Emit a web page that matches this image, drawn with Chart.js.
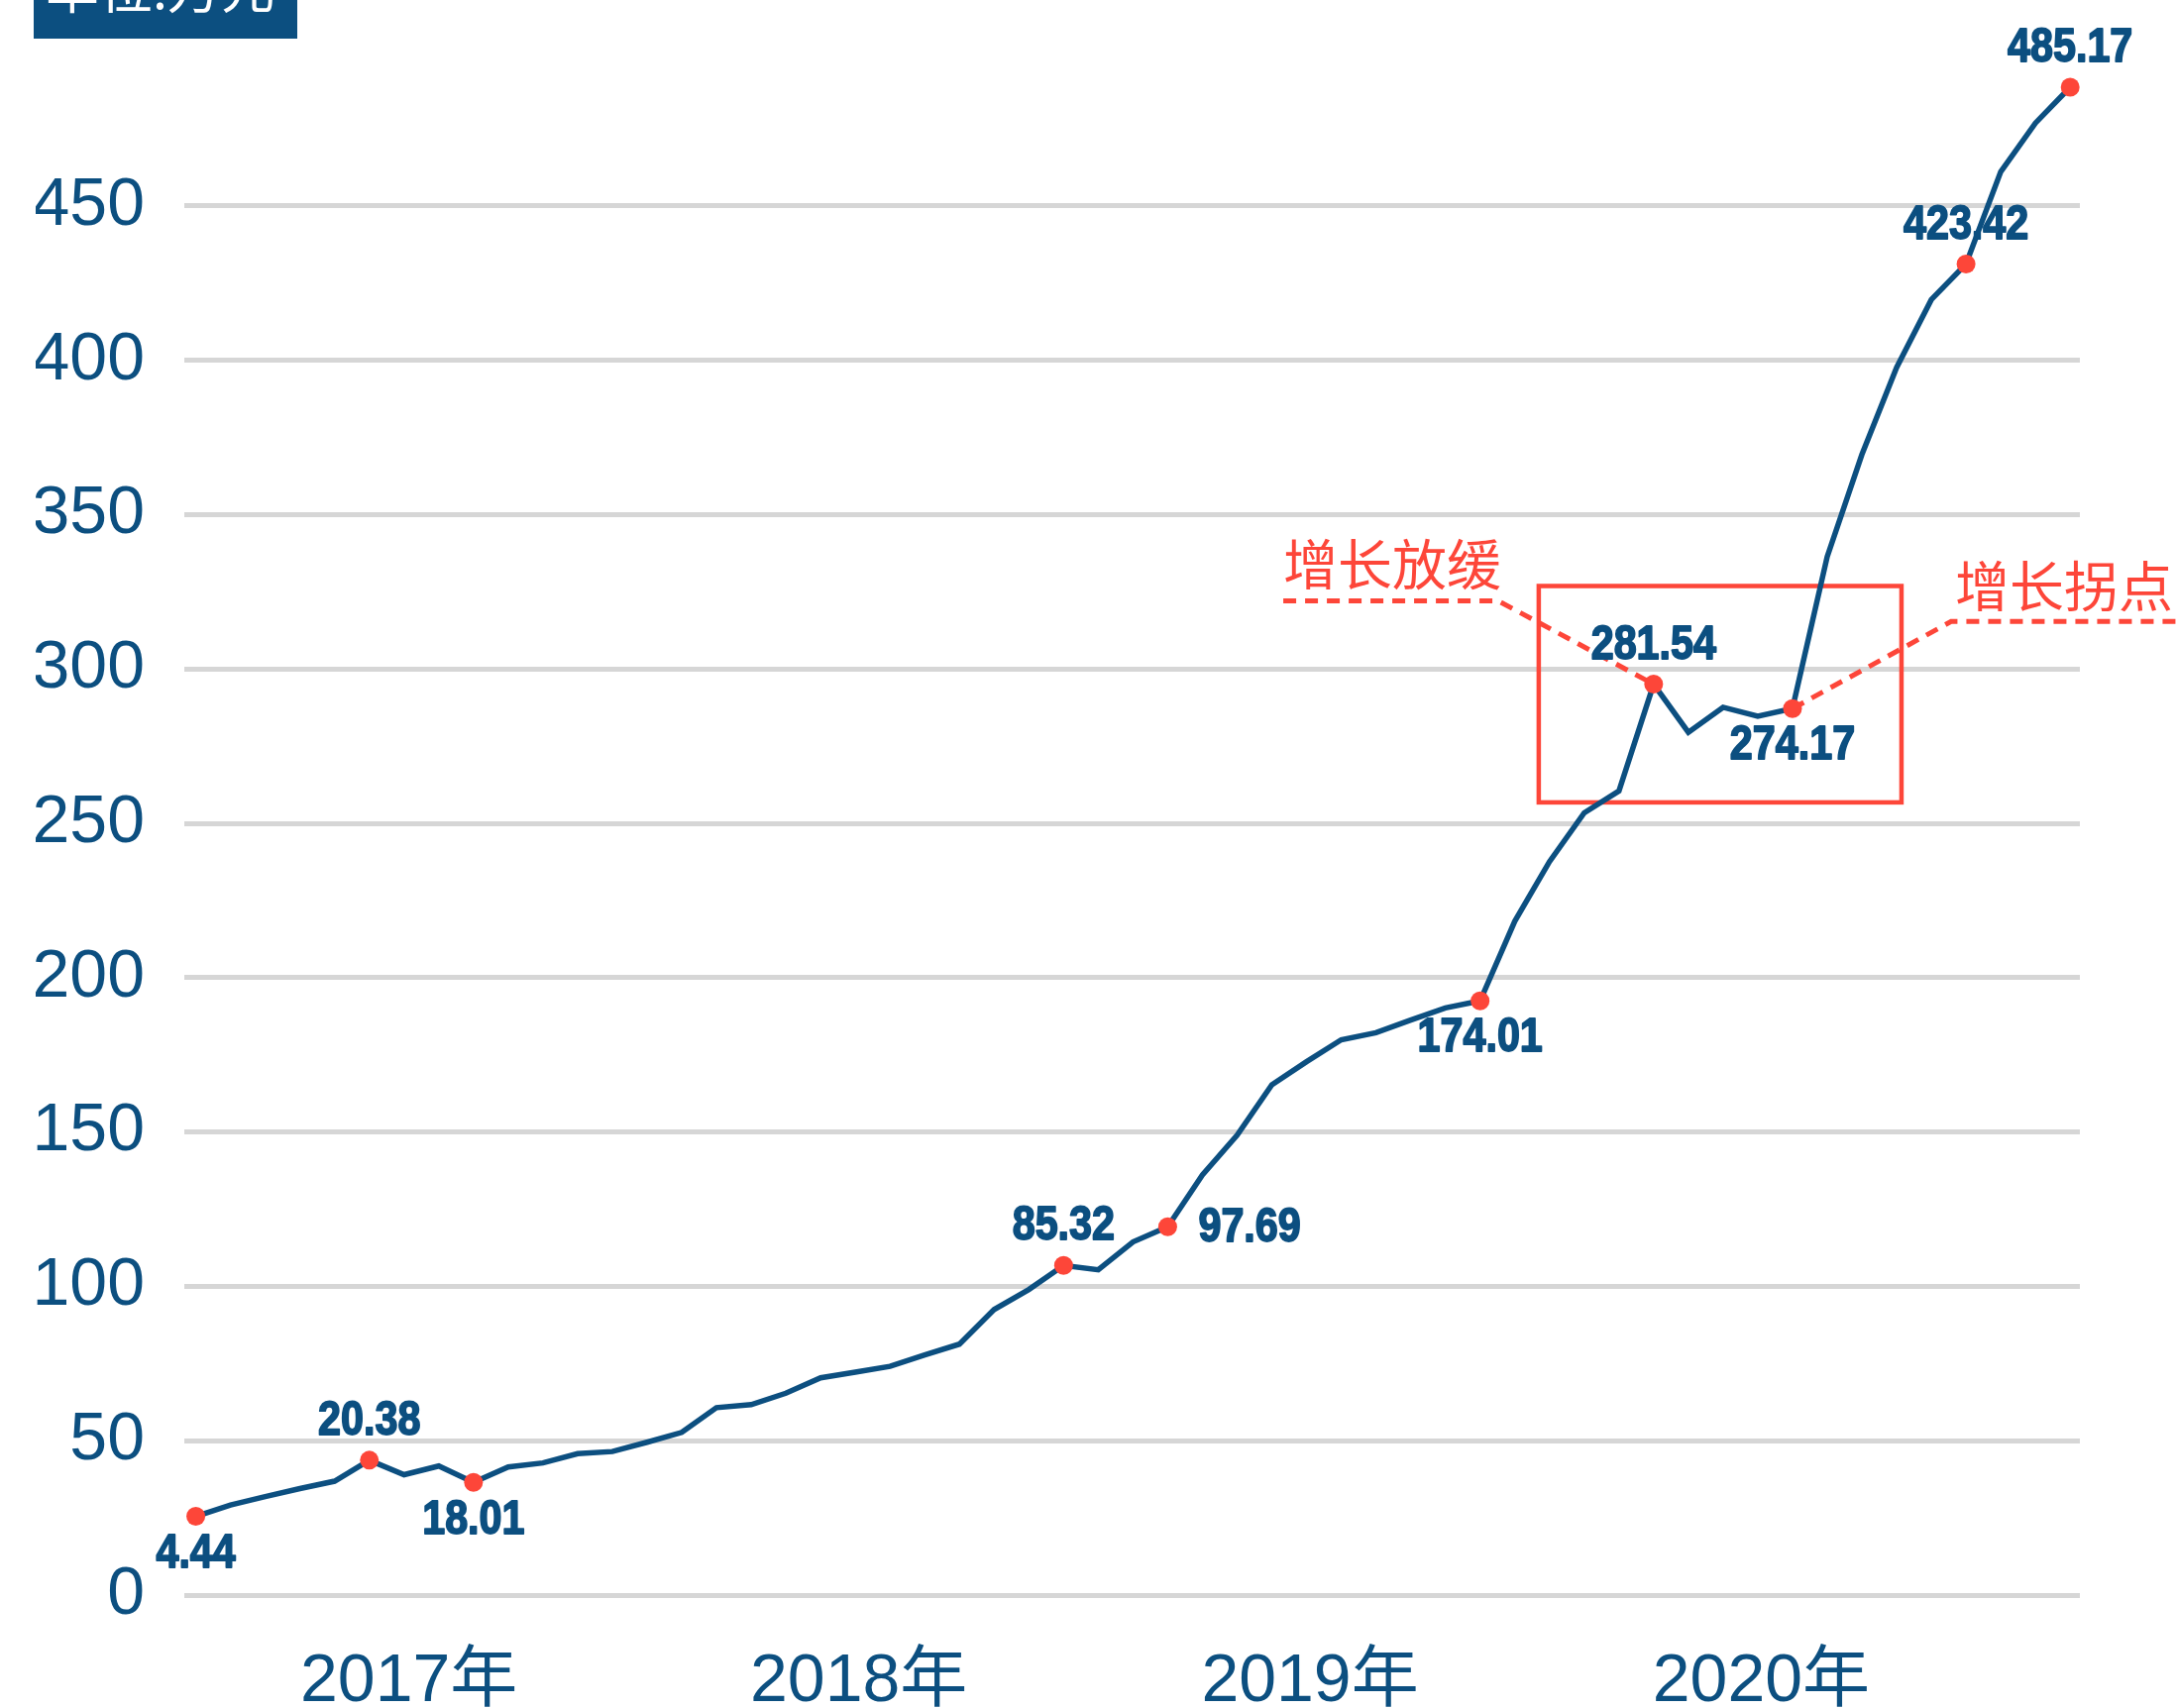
<!DOCTYPE html>
<html>
<head>
<meta charset="utf-8">
<script src="https://cdn.jsdelivr.net/npm/chart.js@4.4.1/dist/chart.umd.min.js"></script>
<style>
html, body { margin: 0; padding: 0; background: #fff; }
#wrap { width: 2197px; height: 1724px; }
</style>
</head>
<body>
<div id="wrap"><canvas id="chart" width="2197" height="1724"></canvas></div>
<script>
// monthly values as plotted (万元)
const sales = [25.5, 29.2, 31.9, 34.5, 36.9, 43.7, 39.0, 41.8, 36.5, 41.5,
    42.8, 45.8, 46.5, 49.5, 52.7, 60.7, 61.7, 65.4, 70.4, 72.2,
    74.1, 77.8, 81.3, 92.5, 99.0, 106.8, 105.4, 114.4, 119.3, 136.1,
    149.0, 165.3, 172.8, 179.9, 182.2, 186.3, 190.2, 192.5, 218.3, 237.6,
    253.4, 260.5, 295.1, 279.5, 287.6, 284.7, 287.2, 336.4, 369.5, 397.7,
    419.7, 431.2, 461.1, 476.9, 488.5];

// highlighted points and the text written next to them
const markIdx = [0, 5, 8, 25, 28, 37, 42, 46, 51, 54];
const markText = ['4.44', '20.38', '18.01', '85.32', '97.69', '174.01', '281.54', '274.17', '423.42', '485.17'];
const markSide = ['below', 'above', 'below', 'above', 'right', 'below', 'above', 'below', 'above', 'above'];

// axis labels
const years = ['2017年', '2018年', '2019年', '2020年'];
const yearPos = [6.14, 19.1, 32.1, 45.1];
const yTicks = [0, 50, 100, 150, 200, 250, 300, 350, 400, 450];

// annotations
const noteText = ['增长放缓', '增长拐点'];
const slowNote = [31.33, 37.52, 322.1];   // start x, corner x, level
const turnNote = [50.57, 57.1, 315.4];    // corner x, end x, level
const boxX = [38.69, 49.14];
const boxY = [256.8, 326.9];

const BLUE = '#0c4f80';
const RED = '#fd4639';

const notesPlugin = {
    id: 'notes',
    beforeDatasetsDraw(chart) {
        const { ctx } = chart;
        const x = chart.scales.x, y = chart.scales.y;
        const pts = chart.getDatasetMeta(0).data;
        ctx.save();
        ctx.strokeStyle = RED;
        ctx.lineWidth = 4.5;

        // red frame round the slowdown
        const bx0 = x.getPixelForValue(boxX[0]), bx1 = x.getPixelForValue(boxX[1]);
        const by0 = y.getPixelForValue(boxY[1]), by1 = y.getPixelForValue(boxY[0]);
        ctx.strokeRect(bx0, by0, bx1 - bx0, by1 - by0);

        // dashed leaders
        ctx.lineWidth = 5;
        ctx.setLineDash([13, 9]);
        const l1 = y.getPixelForValue(slowNote[2]);
        ctx.beginPath();
        ctx.moveTo(x.getPixelForValue(slowNote[0]), l1);
        ctx.lineTo(x.getPixelForValue(slowNote[1]), l1);
        ctx.lineTo(pts[42].x, pts[42].y);
        ctx.stroke();

        const l2 = y.getPixelForValue(turnNote[2]);
        ctx.beginPath();
        ctx.moveTo(pts[46].x, pts[46].y);
        ctx.lineTo(x.getPixelForValue(turnNote[0]), l2);
        ctx.lineTo(x.getPixelForValue(turnNote[1]), l2);
        ctx.stroke();

        ctx.setLineDash([]);
        ctx.fillStyle = RED;
        ctx.font = '55px "Noto Sans CJK SC"';
        ctx.textAlign = 'left';
        ctx.textBaseline = 'middle';
        ctx.fillText(noteText[0], x.getPixelForValue(slowNote[0]), l1 - 37);
        ctx.fillText(noteText[1], x.getPixelForValue(turnNote[0]) + 4, l2 - 36);
        ctx.restore();
    }
};

const labelsPlugin = {
    id: 'pointLabels',
    afterDatasetsDraw(chart) {
        const ctx = chart.ctx;
        const pts = chart.getDatasetMeta(0).data;
        ctx.save();
        ctx.font = 'bold 48px "Liberation Sans"';
        ctx.fillStyle = BLUE;
        ctx.strokeStyle = BLUE;
        ctx.lineWidth = 1.8;
        ctx.lineJoin = 'round';
        ctx.textBaseline = 'middle';
        markIdx.forEach((idx, k) => {
            let px = pts[idx].x, py = pts[idx].y, align = 'center';
            if (markSide[k] === 'above') py -= 40;
            else if (markSide[k] === 'below') py += 37;
            else { px += 31; align = 'left'; }
            ctx.save();
            ctx.translate(px, py);
            ctx.scale(0.86, 1);
            ctx.textAlign = align;
            ctx.fillText(markText[k], 0, 1);
            ctx.strokeText(markText[k], 0, 1);
            ctx.restore();
        });
        ctx.restore();
    }
};

const unitPlugin = {
    id: 'unit',
    afterDraw(chart) {
        const ctx = chart.ctx;
        ctx.save();
        ctx.fillStyle = BLUE;
        ctx.fillRect(34, 0, 266, 39);
        ctx.fillStyle = '#fff';
        ctx.font = '54px "Noto Sans CJK SC"';
        ctx.textBaseline = 'alphabetic';
        ctx.fillText('单位:万元', 46, 9);
        ctx.restore();
    }
};

const tickFont = { family: '"Liberation Sans", "Noto Sans CJK SC"', size: 68, lineHeight: 1 };

new Chart(document.getElementById('chart'), {
    type: 'line',
    data: {
        datasets: [{
            data: sales.map((v, i) => ({ x: i, y: v })),
            borderColor: BLUE,
            borderWidth: 5.5,
            tension: 0,
            fill: false,
            clip: false,
            pointRadius: c => markIdx.includes(c.dataIndex) ? 9.5 : 0,
            pointBackgroundColor: RED,
            pointBorderWidth: 0,
            pointHoverRadius: 0
        }]
    },
    options: {
        responsive: false,
        animation: false,
        devicePixelRatio: 1,
        layout: { padding: { left: 36, right: 98, top: 50, bottom: 0 } },
        plugins: { legend: { display: false }, tooltip: { enabled: false } },
        scales: {
            x: {
                type: 'linear',
                min: -0.331,
                max: 54.28,
                grid: { display: false },
                border: { display: false },
                afterBuildTicks: axis => { axis.ticks = yearPos.map(v => ({ value: v })); },
                afterFit: axis => { axis.height = 114; },
                ticks: {
                    padding: 46,
                    color: BLUE,
                    font: tickFont,
                    maxRotation: 0,
                    autoSkip: false,
                    callback: (v, i) => years[i]
                }
            },
            y: {
                min: 0,
                max: 493,
                afterBuildTicks: axis => { axis.ticks = yTicks.map(v => ({ value: v })); },
                afterFit: axis => { axis.width = 150; },
                grid: { color: '#d6d6d6', lineWidth: 5, drawTicks: false },
                border: { display: false },
                ticks: { padding: 40, color: BLUE, font: tickFont }
            }
        }
    },
    plugins: [notesPlugin, labelsPlugin, unitPlugin]
});
</script>
</body>
</html>
